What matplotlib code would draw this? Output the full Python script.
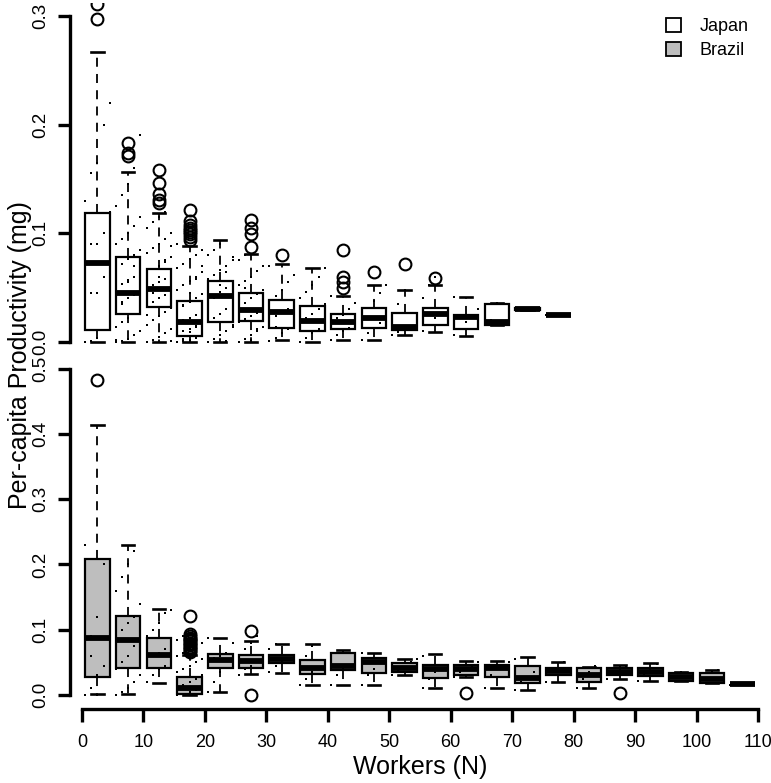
import numpy as np
import matplotlib
matplotlib.use('Agg')
import matplotlib.pyplot as plt
from matplotlib.patches import Patch

plt.rcParams['font.family'] = ['Liberation Sans', 'DejaVu Sans']

# ========== data (per-capita productivity, mg) ==========
# boxes are binned by colony size in steps of 5 workers
jp_pos = [2.5 + 5 * k for k in range(16)]
jp_whislo = [0.0, 0.0, 0.0, 0.0, 0.0, 0.0, 0.002, 0.0, 0.002, 0.002, 0.006, 0.0095, 0.0055, 0.016, 0.029, 0.0245]
jp_q1 = [0.011, 0.026, 0.032, 0.0055, 0.018, 0.019, 0.013, 0.010, 0.012, 0.0126, 0.011, 0.016, 0.012, 0.016, 0.029, 0.0245]
jp_med = [0.073, 0.045, 0.049, 0.018, 0.042, 0.029, 0.028, 0.019, 0.018, 0.022, 0.014, 0.026, 0.0227, 0.0187, 0.030, 0.0245]
jp_q3 = [0.119, 0.078, 0.067, 0.038, 0.056, 0.045, 0.039, 0.033, 0.026, 0.031, 0.027, 0.0316, 0.025, 0.035, 0.031, 0.0245]
jp_whishi = [0.267, 0.156, 0.119, 0.088, 0.094, 0.081, 0.072, 0.068, 0.042, 0.052, 0.048, 0.052, 0.041, 0.036, 0.031, 0.0245]
jp_fliers = [[0.297, 0.311], [0.171, 0.174, 0.183], [0.128, 0.131, 0.136, 0.146, 0.158],
             [0.094, 0.097, 0.099, 0.101, 0.103, 0.105, 0.108, 0.111, 0.121], [],
             [0.087, 0.099, 0.105, 0.112], [0.08], [], [0.05, 0.055, 0.06, 0.085], [0.064],
             [0.072], [0.0585], [], [], [], []]

br_pos = [2.5 + 5 * k for k in range(22)]
br_whislo = [0.001, 0.001, 0.018, 0.0, 0.005, 0.032, 0.033, 0.015, 0.015, 0.015, 0.031, 0.010, 0.027, 0.010, 0.0077, 0.020, 0.010, 0.024, 0.022, 0.021, 0.018, 0.0163]
br_q1 = [0.028, 0.042, 0.042, 0.001, 0.041, 0.041, 0.0485, 0.032, 0.038, 0.033, 0.0357, 0.0255, 0.031, 0.028, 0.019, 0.031, 0.0204, 0.031, 0.029, 0.0214, 0.018, 0.0163]
br_med = [0.088, 0.084, 0.062, 0.010, 0.0536, 0.0525, 0.055, 0.041, 0.045, 0.051, 0.042, 0.040, 0.040, 0.042, 0.0265, 0.037, 0.030, 0.035, 0.035, 0.027, 0.025, 0.0163]
br_q3 = [0.208, 0.121, 0.087, 0.028, 0.063, 0.062, 0.061, 0.0536, 0.065, 0.056, 0.0485, 0.046, 0.046, 0.046, 0.045, 0.042, 0.041, 0.042, 0.041, 0.033, 0.034, 0.0163]
br_whishi = [0.413, 0.230, 0.131, 0.062, 0.087, 0.082, 0.0775, 0.0775, 0.069, 0.065, 0.0545, 0.063, 0.052, 0.052, 0.058, 0.051, 0.043, 0.046, 0.0485, 0.0357, 0.039, 0.0163]
br_fliers = [[0.483], [], [],
             [0.066, 0.068, 0.070, 0.072, 0.074, 0.076, 0.078, 0.080, 0.082, 0.084, 0.086, 0.088, 0.091, 0.093, 0.121],
             [], [0.0, 0.098], [], [], [], [], [], [], [0.0035], [], [], [], [], [0.0026], [], [], [], []]

# raw colony values per bin (dots)
jp_pts = [
    [0.0, 0.001, 0.004, 0.011, 0.02, 0.03, 0.045, 0.045, 0.06, 0.073, 0.09, 0.09, 0.09, 0.1, 0.12, 0.13, 0.155, 0.165, 0.2, 0.22],
    [0.0, 0.001, 0.003, 0.006, 0.01, 0.014, 0.018, 0.022, 0.026, 0.03, 0.033, 0.037, 0.04, 0.043, 0.046, 0.05, 0.053, 0.057, 0.06, 0.064,
     0.068, 0.072, 0.076, 0.08, 0.085, 0.09, 0.095, 0.1, 0.107, 0.115, 0.125, 0.135, 0.145, 0.16, 0.19, 0.002, 0.035, 0.055, 0.07],
    [0.0, 0.002, 0.005, 0.008, 0.012, 0.016, 0.02, 0.024, 0.028, 0.031, 0.034, 0.037, 0.04, 0.043, 0.046, 0.049, 0.052, 0.055, 0.058, 0.061,
     0.064, 0.067, 0.07, 0.074, 0.078, 0.082, 0.086, 0.09, 0.095, 0.1, 0.105, 0.11, 0.115, 0.12, 0.001, 0.025, 0.045, 0.06, 0.075, 0.088],
    [0.0, 0.001, 0.002, 0.004, 0.006, 0.008, 0.01, 0.012, 0.014, 0.016, 0.018, 0.02, 0.022, 0.025, 0.028, 0.031, 0.034, 0.037, 0.04, 0.044,
     0.048, 0.052, 0.056, 0.06, 0.064, 0.068, 0.072, 0.076, 0.08, 0.085, 0.09, 0.003, 0.009, 0.015, 0.021, 0.027, 0.033, 0.045, 0.058, 0.07],
    [0.0, 0.003, 0.006, 0.01, 0.014, 0.018, 0.022, 0.026, 0.03, 0.034, 0.038, 0.042, 0.046, 0.05, 0.054, 0.058, 0.062, 0.066, 0.07, 0.075,
     0.08, 0.085, 0.09, 0.001, 0.016, 0.028, 0.04, 0.052, 0.064, 0.078],
    [0.0, 0.003, 0.006, 0.01, 0.014, 0.018, 0.021, 0.024, 0.027, 0.03, 0.033, 0.036, 0.04, 0.044, 0.048, 0.052, 0.056, 0.06, 0.065, 0.07,
     0.075, 0.08, 0.002, 0.012, 0.025, 0.038, 0.05],
    [0.001, 0.004, 0.008, 0.012, 0.016, 0.02, 0.024, 0.027, 0.03, 0.034, 0.038, 0.042, 0.048, 0.055, 0.062, 0.07, 0.014, 0.028],
    [0.0, 0.004, 0.008, 0.012, 0.016, 0.019, 0.022, 0.026, 0.03, 0.035, 0.04, 0.046, 0.052, 0.06, 0.068],
    [0.002, 0.006, 0.01, 0.013, 0.016, 0.019, 0.022, 0.025, 0.03, 0.036, 0.042],
    [0.002, 0.008, 0.013, 0.017, 0.022, 0.026, 0.031, 0.038, 0.045, 0.052],
    [0.006, 0.009, 0.012, 0.015, 0.02, 0.027, 0.035, 0.048],
    [0.01, 0.016, 0.022, 0.026, 0.03, 0.04, 0.052, 0.06],
    [0.006, 0.012, 0.018, 0.023, 0.03, 0.041],
    [0.016, 0.02, 0.036],
    [0.03, 0.031],
    [0.0245],
]
br_pts = [
    [0.0, 0.01, 0.03, 0.045, 0.045, 0.09, 0.09, 0.12, 0.2, 0.19, 0.23, 0.06, 0.0],
    [0.0, 0.005, 0.01, 0.02, 0.03, 0.04, 0.05, 0.06, 0.075, 0.085, 0.09, 0.1, 0.11, 0.12, 0.14, 0.16, 0.18, 0.2, 0.22, 0.03, 0.0],
    [0.02, 0.03, 0.04, 0.045, 0.05, 0.055, 0.06, 0.065, 0.07, 0.08, 0.09, 0.1, 0.11, 0.125, 0.13, 0.05],
    [0.0, 0.002, 0.005, 0.008, 0.01, 0.012, 0.015, 0.02, 0.025, 0.03, 0.035, 0.04, 0.045, 0.05, 0.055, 0.06, 0.065, 0.07, 0.075, 0.08, 0.085, 0.09],
    [0.005, 0.02, 0.035, 0.042, 0.048, 0.052, 0.056, 0.06, 0.065, 0.08, 0.087],
    [0.03, 0.04, 0.045, 0.05, 0.055, 0.06, 0.07, 0.08, 0.09],
    [0.035, 0.045, 0.05, 0.055, 0.06, 0.07, 0.078],
    [0.015, 0.025, 0.035, 0.04, 0.045, 0.05, 0.06, 0.075],
    [0.015, 0.03, 0.04, 0.045, 0.05, 0.06, 0.065],
    [0.015, 0.03, 0.04, 0.05, 0.055, 0.065],
    [0.03, 0.038, 0.042, 0.05, 0.055],
    [0.01, 0.025, 0.035, 0.04, 0.045, 0.06],
    [0.028, 0.035, 0.04, 0.045, 0.05],
    [0.01, 0.03, 0.04, 0.045, 0.05],
    [0.008, 0.02, 0.025, 0.035, 0.045, 0.055],
    [0.02, 0.035, 0.04, 0.05],
    [0.01, 0.025, 0.035, 0.045],
    [0.024, 0.035, 0.04, 0.045],
    [0.022, 0.03, 0.04, 0.048],
    [0.022, 0.028, 0.035],
    [0.018, 0.025, 0.035, 0.038],
    [0.016],
]

W, H = 771, 783
fig = plt.figure(figsize=(W / 100, H / 100), dpi=100)
ax1 = fig.add_axes([70 / W, 1 - 355 / H, 700 / W, 352 / H])
ax2 = fig.add_axes([70 / W, 1 - 709 / H, 700 / W, 354 / H])


def draw_panel(ax, pos, lo, q1, med, q3, hi, fl, pts, fill):
    stats = []
    for i in range(len(pos)):
        stats.append(dict(whislo=lo[i], q1=q1[i], med=med[i], q3=q3[i], whishi=hi[i], fliers=fl[i]))
    ax.bxp(stats, positions=pos, widths=4, patch_artist=True,
           boxprops=dict(facecolor=fill, edgecolor='black', linewidth=1.6),
           medianprops=dict(color='black', linewidth=4.2, solid_capstyle='butt'),
           whiskerprops=dict(color='black', linewidth=1.3, linestyle=(0, (5, 4))),
           capprops=dict(color='black', linewidth=1.9),
           flierprops=dict(marker='o', markerfacecolor='none', markeredgecolor='black',
                           markersize=8.5, markeredgewidth=1.5),
           manage_ticks=False)
    # raw values spread over the integer worker counts in each bin
    for k, vals in enumerate(pts):
        xs = [5 * k + 0.5 + (i % 5) for i in range(len(vals))]
        ax.plot(xs, vals, 's', ms=2.0, color='black', mew=0)
    ax.set_xlim(-1.953, 111.96)
    for s in ['top', 'right']:
        ax.spines[s].set_visible(False)
    ax.spines['left'].set_linewidth(2.4)
    ax.tick_params(axis='y', length=9, width=2.4, labelsize=13.5, pad=6)


draw_panel(ax1, jp_pos, jp_whislo, jp_q1, jp_med, jp_q3, jp_whishi, jp_fliers, jp_pts, 'white')
draw_panel(ax2, br_pos, br_whislo, br_q1, br_med, br_q3, br_whishi, br_fliers, br_pts, '#BEBEBE')

ax1.set_ylim(-0.012, 0.3118)
ax1.set_yticks([0.0, 0.1, 0.2, 0.3], ['0.0', '0.1', '0.2', '0.3'], rotation=90, va='center')
ax1.spines['left'].set_bounds(0, 0.3)
ax1.spines['bottom'].set_visible(False)
ax1.set_xticks([])

ax2.set_ylim(-0.0214, 0.5207)
ax2.set_yticks([0.0, 0.1, 0.2, 0.3, 0.4, 0.5], ['0.0', '0.1', '0.2', '0.3', '0.4', '0.5'], rotation=90, va='center')
ax2.spines['left'].set_bounds(0, 0.5)
ax2.spines['bottom'].set_bounds(0, 110)
ax2.spines['bottom'].set_linewidth(2.4)
ax2.set_xticks(range(0, 111, 10))
ax2.tick_params(axis='x', length=9, width=2.4, labelsize=13, pad=9)

fig.text(20 / W, 1 - 355 / H, 'Per-capita Productivity (mg)', rotation=90,
         ha='center', va='center', fontsize=18)
fig.text(420 / W, 1 - 767 / H, 'Workers (N)', ha='center', va='center', fontsize=18)

handles = [Patch(facecolor='white', edgecolor='black', linewidth=1.3),
           Patch(facecolor='#BEBEBE', edgecolor='black', linewidth=1.3)]
fig.legend(handles, ['Japan', 'Brazil'], loc='upper left', bbox_to_anchor=(666 / W, 1 - 18 / H),
           frameon=False, fontsize=13, handlelength=0.85, handleheight=0.85,
           handletextpad=1.0, labelspacing=0.35, borderpad=0, borderaxespad=0)

fig.savefig('out.png', dpi=100)
